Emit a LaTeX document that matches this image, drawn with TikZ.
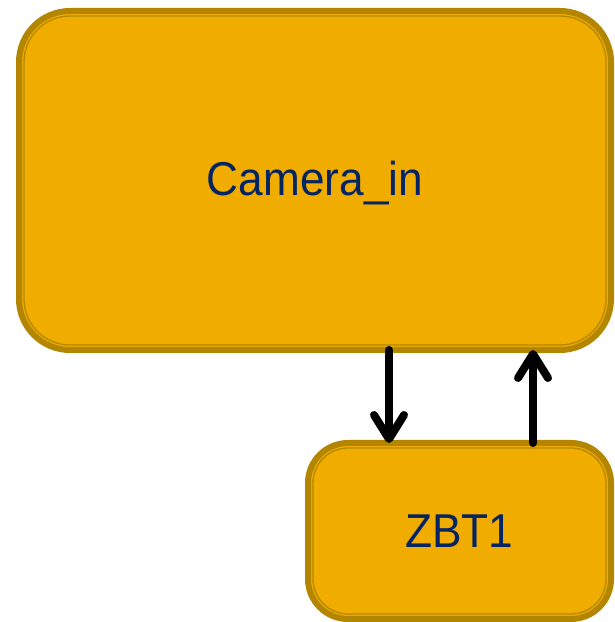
\documentclass[tikz,border=0pt]{standalone}
\usepackage{fontspec}
\setmainfont{Liberation Sans}[FakeStretch=0.93]
\usetikzlibrary{arrows.meta}
\definecolor{boxfill}{RGB}{240,173,0}
\definecolor{boxedge}{RGB}{180,134,0}
\definecolor{labelblue}{RGB}{5,36,100}
\begin{document}
\begin{tikzpicture}[x=1pt,y=1pt,line cap=round,line join=round]
		\tikzset{block/.style={draw=boxedge,fill=boxfill,line width=6pt,inner sep=0pt,outer sep=0pt,
				text=labelblue,font=\fontsize{47.5}{57}\selectfont},
			rim/.style={draw=boxedge,line width=1.3pt},
			flow/.style={line width=8pt,-{Straight Barb[length=24pt,width=30pt,round]}}
		}
		\useasboundingbox (0,0) rectangle (614,622);
		\node[block,rounded corners=51pt,minimum width=592pt,minimum height=339pt] (cam) at (315,441.5) {\raisebox{-3pt}[\height][\depth]{Camera\_in}};
		\node[block,rounded corners=40pt,minimum width=303pt,minimum height=176pt] (zbt) at (459.5,91) {ZBT1};
		\draw[rim,rounded corners=46pt] ([shift={(5,-5)}]cam.north west) rectangle ([shift={(-5,5)}]cam.south east);
		\draw[rim,rounded corners=35pt] ([shift={(5,-5)}]zbt.north west) rectangle ([shift={(-5,5)}]zbt.south east);
		\draw[flow] ([xshift=74pt]cam.south) -- ([xshift=74pt]cam.south |- zbt.north);
		\draw[flow] ([xshift=73.5pt]zbt.north) -- ([xshift=73.5pt]zbt.north |- cam.south);
	\end{tikzpicture}
\end{document}
